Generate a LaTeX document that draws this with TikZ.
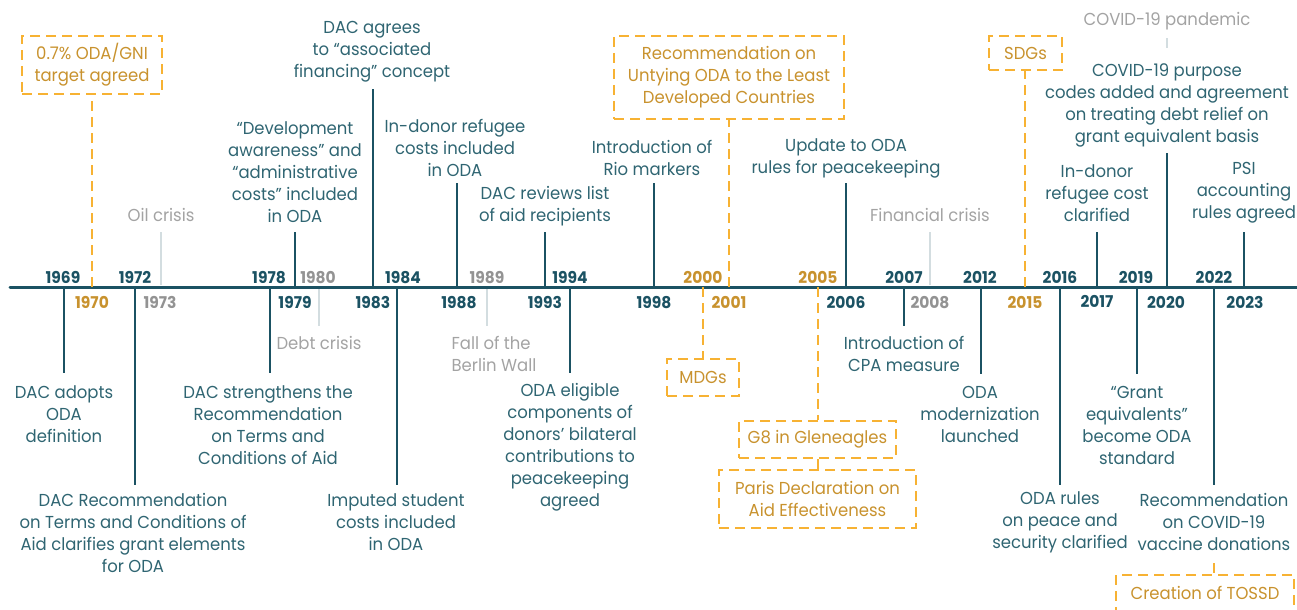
\documentclass[tikz,border=0pt]{standalone}
\usepackage{fontspec}
\setmainfont{Poppins}[FakeStretch=0.95]
\usepackage{tikz}
\usetikzlibrary{positioning}

\definecolor{axisteal}{HTML}{1B5263}
\definecolor{textteal}{HTML}{2F6572}
\definecolor{odaorange}{HTML}{F7B233}
\definecolor{odatext}{HTML}{C8922E}
\definecolor{greytext}{HTML}{A3A3A3}
\definecolor{greyline}{HTML}{D3DDE0}

\newcommand{\evtfont}{\fontsize{13}{16.5}\selectfont}
\newcommand{\yrfont}{\fontsize{12.2}{13}\selectfont\bfseries}

\tikzset{
  evt/.style={font=\evtfont, text=textteal, align=center, inner sep=0pt},
  ctx/.style={font=\evtfont, text=greytext, align=center, inner sep=0pt},
  odabox/.style={draw=odaorange, line width=1.5pt, dash pattern=on 7.5pt off 4.5pt,
    font=\evtfont, text=odatext, align=center, inner sep=0pt},
  yr/.style={font=\yrfont, text=axisteal, anchor=base, inner sep=0pt},
  yrctx/.style={yr, text=greytext!90!black},
  yroda/.style={yr, text=odatext},
  tick/.style={draw=axisteal, line width=1.5pt},
  ctxtick/.style={draw=greyline, line width=1.5pt},
  odaline/.style={draw=odaorange, line width=1.5pt, dash pattern=on 7.5pt off 4.5pt},
}

\begin{document}
\begin{tikzpicture}[x=0.75pt,y=0.75pt,yscale=-1,xscale=1]
\useasboundingbox (0,0) rectangle (1297,610);

%Straight Lines: time axis
\coordinate (axL) at (10,287);
\coordinate (axR) at (1297,287);
\draw [draw=axisteal, line width=2.25pt, line cap=round] (axL) -- (axR);

% Years above the axis
\node [yr] (y1969) at (63,283) {1969};
\node [yr] (y1972) at (135,283) {1972};
\node [yr] (y1978) at (269,283) {1978};
\node [yrctx] (y1980) at (318,283) {1980};
\node [yr] (y1984) at (403,283) {1984};
\node [yrctx] (y1989) at (487,283) {1989};
\node [yr] (y1994) at (570,283) {1994};
\node [yroda] (y2000) at (703,283) {2000};
\node [yroda] (y2005) at (818,283) {2005};
\node [yr] (y2007) at (904,283) {2007};
\node [yr] (y2012) at (980,283) {2012};
\node [yr] (y2016) at (1060,283) {2016};
\node [yr] (y2019) at (1136,283) {2019};
\node [yr] (y2022) at (1214,283) {2022};

% Years below the axis
\node [yroda] (y1970) at (92,308) {1970};
\node [yrctx] (y1973) at (160,308) {1973};
\node [yr] (y1979) at (295,308) {1979};
\node [yr] (y1983) at (373,308) {1983};
\node [yr] (y1988) at (459,308) {1988};
\node [yr] (y1993) at (545,308) {1993};
\node [yr] (y1998) at (654,308) {1998};
\node [yroda] (y2001) at (729,308) {2001};
\node [yr] (y2006) at (846,308) {2006};
\node [yrctx] (y2008) at (930,308) {2008};
\node [yroda] (y2015) at (1025,308) {2015};
\node [yr] (y2017) at (1097,307) {2017};
\node [yr] (y2020) at (1166,308) {2020};
\node [yr] (y2023) at (1245,308) {2023};

% Text Node
\node [evt] (t1979) at (295,172) {“Development\\awareness” and\\“administrative\\costs” included\\in ODA};
% Text Node
\node [evt] (t1983) at (372,52) {DAC agrees\\to “associated\\financing” concept};
% Text Node
\node [evt] (t1988) at (455,147.5) {In-donor refugee\\costs included\\in ODA};
% Text Node
\node [evt] (t1993) at (545,206) {DAC reviews list\\of aid recipients};
% Text Node
\node [evt] (t1998) at (652,158) {Introduction of\\Rio markers};
% Text Node
\node [evt] (t2006) at (846,158) {Update to ODA\\rules for peacekeeping};
% Text Node
\node [evt] (t2017) at (1097,193) {In-donor\\refugee cost\\clarified};
% Text Node
\node [evt] (t2020) at (1167,105) {COVID-19 purpose\\codes added and agreement\\on treating debt relief on\\grant equivalent basis};
% Text Node
\node [evt] (t2023) at (1244,193) {PSI\\accounting\\rules agreed};

% Text Node
\node [ctx] (t1973) at (161,215) {Oil crisis};
% Text Node
\node [ctx] (t2008) at (930,215) {Financial crisis};
% Text Node
\node [ctx] (tcovid) at (1167,21) {COVID-19 pandemic};

% Text Node
\node [evt] (t1969) at (64,414) {DAC adopts\\ODA\\definition};
% Text Node
\node [evt] (t1972) at (133,533) {DAC Recommendation\\on Terms and Conditions of\\Aid clarifies grant elements\\for ODA};
% Text Node
\node [evt] (t1978) at (268,425.5) {DAC strengthens the\\Recommendation\\on Terms and\\Conditions of Aid};
% Text Node
\node [evt] (t1984) at (396,522) {Imputed student\\costs included\\in ODA};
% Text Node
\node [evt] (t1994) at (570,447.5) {ODA eligible\\components of\\donors’ bilateral\\contributions to\\peacekeeping\\agreed};
% Text Node
\node [evt] (t2007) at (904,354) {Introduction of\\CPA measure};
% Text Node
\node [evt] (t2012) at (980,414) {ODA\\modernization\\launched};
% Text Node
\node [evt] (t2016) at (1060,522) {ODA rules\\on peace and\\security clarified};
% Text Node
\node [evt] (t2019) at (1137,425.5) {“Grant\\equivalents”\\become ODA\\standard};
% Text Node
\node [evt] (t2022) at (1214,522) {Recommendation\\on COVID-19\\vaccine donations};

% Text Node
\node [ctx] (t1980) at (319,343) {Debt crisis};
% Text Node
\node [ctx, align=left] (t1989) at (494,354) {Fall of the\\Berlin Wall};

%Shape: dashed boxes
\node [odabox, minimum width=105pt, minimum height=43.5pt] (b1970) at (92,65) {0.7\% ODA/GNI\\target agreed};
\node [odabox, minimum width=172.5pt, minimum height=62.25pt] (b2001) at (729,77.5) {Recommendation on\\Untying ODA to the Least\\Developed Countries};
\node [odabox, minimum width=54.75pt, minimum height=25.5pt] (b2015) at (1025.5,53) {SDGs};
\node [odabox, minimum width=54pt, minimum height=27.75pt] (b2000) at (703,377.5) {MDGs};
\node [odabox, minimum width=117.75pt, minimum height=27.75pt] (b2005) at (817.5,439.5) {G8 in Gleneagles};
\node [odabox, minimum width=147.75pt, minimum height=43.5pt] (b2005p) at (817.5,499) {Paris Declaration on\\Aid Effectiveness};
\node [odabox, minimum width=133.5pt, minimum height=45pt] (b2022) at (1205,605) {\raisebox{18pt}{Creation of TOSSD}};

%Straight Lines: ticks above the axis
\coordinate (a1979) at (295,287);  \coordinate (e1979) at (295,232);
\coordinate (a1983) at (373,287);  \coordinate (e1983) at (373,89);
\coordinate (a1988) at (457,287);  \coordinate (e1988) at (457,183);
\coordinate (a1993) at (545,287);  \coordinate (e1993) at (545,232);
\coordinate (a1998) at (654,287);  \coordinate (e1998) at (654,183);
\coordinate (a2006) at (846,287);  \coordinate (e2006) at (846,183);
\coordinate (a2017) at (1097,287); \coordinate (e2017) at (1097,232);
\coordinate (a2020) at (1167,287); \coordinate (e2020) at (1167,153);
\coordinate (a2023) at (1244,287); \coordinate (e2023) at (1244,232);
\draw [tick] (a1979) -- (e1979);
\draw [tick] (a1983) -- (e1983);
\draw [tick] (a1988) -- (e1988);
\draw [tick] (a1993) -- (e1993);
\draw [tick] (a1998) -- (e1998);
\draw [tick] (a2006) -- (e2006);
\draw [tick] (a2017) -- (e2017);
\draw [tick] (a2020) -- (e2020);
\draw [tick] (a2023) -- (e2023);

%Straight Lines: ticks below the axis
\coordinate (a1969) at (64,287);   \coordinate (e1969) at (64,373);
\coordinate (a1972) at (135,287);  \coordinate (e1972) at (135,485);
\coordinate (a1978) at (270,287);  \coordinate (e1978) at (270,373);
\coordinate (a1984) at (397,287);  \coordinate (e1984) at (397,485);
\coordinate (a1994) at (570,287);  \coordinate (e1994) at (570,373);
\coordinate (a2007) at (904,287);  \coordinate (e2007) at (904,326);
\coordinate (a2012) at (981,287);  \coordinate (e2012) at (981,374);
\coordinate (a2016) at (1060,287); \coordinate (e2016) at (1060,485);
\coordinate (a2019) at (1137,287); \coordinate (e2019) at (1137,374);
\coordinate (a2022) at (1214,287); \coordinate (e2022) at (1214,485);
\draw [tick] (a1969) -- (e1969);
\draw [tick] (a1972) -- (e1972);
\draw [tick] (a1978) -- (e1978);
\draw [tick] (a1984) -- (e1984);
\draw [tick] (a1994) -- (e1994);
\draw [tick] (a2007) -- (e2007);
\draw [tick] (a2012) -- (e2012);
\draw [tick] (a2016) -- (e2016);
\draw [tick] (a2019) -- (e2019);
\draw [tick] (a2022) -- (e2022);

%Straight Lines: context ticks
\coordinate (a1973) at (161,285);  \coordinate (e1973) at (161,232);
\coordinate (a2008) at (930,285);  \coordinate (e2008) at (930,232);
\coordinate (a1980) at (319,289);  \coordinate (e1980) at (319,326);
\coordinate (a1989) at (487,289);  \coordinate (e1989) at (487,326);
\coordinate (ccovid) at (1167,48); \coordinate (dcovid) at (1167,38);
\draw [ctxtick] (a1973) -- (e1973);
\draw [ctxtick] (a2008) -- (e2008);
\draw [ctxtick] (a1980) -- (e1980);
\draw [ctxtick] (a1989) -- (e1989);
\draw [ctxtick] (ccovid) -- (dcovid);

%Straight Lines: dashed links to boxes
\coordinate (a1970) at (92,287);
\coordinate (a2001) at (729,287);
\coordinate (a2015) at (1025,287);
\coordinate (a2000) at (703,287);
\coordinate (a2005) at (818,287);
\coordinate (c2022) at (1214,563);
\draw [odaline] (a1970) -- (b1970.south);
\draw [odaline] (a2001) -- (b2001.south);
\draw [odaline] (a2015) -- (a2015 |- b2015.south);
\draw [odaline] (a2000) -- (b2000.north);
\draw [odaline] (a2005) -- (a2005 |- b2005.north);
\draw [odaline] (b2005.south) -- (b2005p.north);
\draw [odaline] (c2022) -- (c2022 |- b2022.north);
\end{tikzpicture}
\end{document}
